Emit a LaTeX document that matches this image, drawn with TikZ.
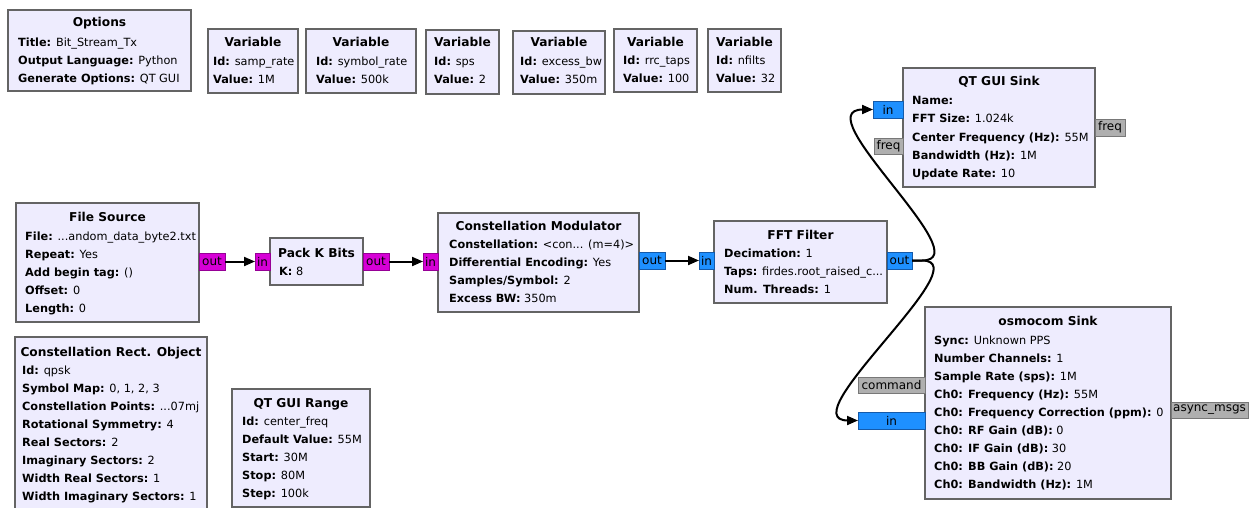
\documentclass[tikz,border=0pt]{standalone}
\usepackage{fontspec}
\setmainfont{DejaVu Sans}
\usetikzlibrary{arrows.meta}
\definecolor{blkfill}{RGB}{238,236,254}
\definecolor{blkdraw}{RGB}{100,100,100}
\definecolor{pbyte}{RGB}{214,0,214}
\definecolor{pbytedraw}{RGB}{150,0,150}
\definecolor{pcplx}{RGB}{30,144,255}
\definecolor{pcplxdraw}{RGB}{20,90,170}
\definecolor{pmsg}{RGB}{175,175,175}
\definecolor{pmsgdraw}{RGB}{120,120,120}
\newcommand{\kv}[2]{\textbf{#1:} #2}
\tikzset{
 blk/.style={draw=blkdraw, fill=blkfill, line width=1.5pt, anchor=north west, inner sep=0pt, outer sep=0pt},
 ttl/.style={anchor=base, font=\fontsize{12.2}{14}\selectfont\bfseries, inner sep=0pt, yshift=-1pt},
 ln/.style={anchor=base west, font=\fontsize{11.3}{13}\selectfont, inner sep=0pt, yshift=-1pt},
 port/.style={anchor=north west, inner sep=0pt, outer sep=0pt, line width=0.8pt, font=\fontsize{12}{14}\selectfont},
 bport/.style={port, draw=pbytedraw, fill=pbyte},
 cport/.style={port, draw=pcplxdraw, fill=pcplx},
 mport/.style={port, draw=pmsgdraw, fill=pmsg},
 wire/.style={line width=2pt, -{Triangle[length=11pt,width=9pt]}},
}
\begin{document}
\begin{tikzpicture}[x=1pt,y=-1pt]
\useasboundingbox (0,0) rectangle (1249,508);
\clip (0,0) rectangle (1249,508);
% Options
\node[blk, minimum width=183pt, minimum height=81pt] (opt) at (8,10) {};
\node[ttl] (opt-t) at (99.5,26) {Options};
\node[ln] (opt-1) at (18,46) {\kv{Title}{Bit\_Stream\_Tx}};
\node[ln] (opt-2) at (18,64) {\kv{Output Language}{Python}};
\node[ln] (opt-3) at (18,82) {\kv{Generate Options}{QT GUI}};
% Variables
\node[blk, minimum width=90pt, minimum height=64pt] (v1) at (208,29) {};
\node[ttl] (v1-t) at (253,46) {Variable};
\node[ln] (v1-1) at (213,65) {\kv{Id}{samp\_rate}};
\node[ln] (v1-2) at (213,83) {\kv{Value}{1M}};
\node[blk, minimum width=110pt, minimum height=64pt] (v2) at (306,29) {};
\node[ttl] (v2-t) at (361,46) {Variable};
\node[ln] (v2-1) at (316,65) {\kv{Id}{symbol\_rate}};
\node[ln] (v2-2) at (316,83) {\kv{Value}{500k}};
\node[blk, minimum width=73pt, minimum height=64pt] (v3) at (426,30) {};
\node[ttl] (v3-t) at (462.5,46) {Variable};
\node[ln] (v3-1) at (434,65) {\kv{Id}{sps}};
\node[ln] (v3-2) at (434,83) {\kv{Value}{2}};
\node[blk, minimum width=92pt, minimum height=63pt] (v4) at (513,31) {};
\node[ttl] (v4-t) at (559,46) {Variable};
\node[ln] (v4-1) at (520,65) {\kv{Id}{excess\_bw}};
\node[ln] (v4-2) at (520,83) {\kv{Value}{350m}};
\node[blk, minimum width=83pt, minimum height=63pt] (v5) at (614,29) {};
\node[ttl] (v5-t) at (655.5,46) {Variable};
\node[ln] (v5-1) at (623,64) {\kv{Id}{rrc\_taps}};
\node[ln] (v5-2) at (623,82) {\kv{Value}{100}};
\node[blk, minimum width=73pt, minimum height=63pt] (v6) at (708,29) {};
\node[ttl] (v6-t) at (744.5,46) {Variable};
\node[ln] (v6-1) at (716,64) {\kv{Id}{nfilts}};
\node[ln] (v6-2) at (716,82) {\kv{Value}{32}};
% QT GUI Sink
\node[blk, minimum width=192pt, minimum height=119pt] (qs) at (903,68) {};
\node[ttl] (qs-t) at (999,85) {QT GUI Sink};
\node[ln] (qs-1) at (912,104) {\textbf{Name:}};
\node[ln] (qs-2) at (912,122) {\kv{FFT Size}{1.024k}};
\node[ln] (qs-3) at (912,140) {\kv{Center Frequency (Hz)}{55M}};
\node[ln] (qs-4) at (912,158) {\kv{Bandwidth (Hz)}{1M}};
\node[ln] (qs-5) at (912,176) {\kv{Update Rate}{10}};
\node[cport, minimum width=30pt, minimum height=17pt] (qs-in) at (873,101) {in};
\node[mport, minimum width=29pt, minimum height=16pt] (qs-freq) at (874,138) {freq};
\node[mport, minimum width=30pt, minimum height=17pt] (qs-fo) at (1095,119) {freq};
% File Source
\node[blk, minimum width=183pt, minimum height=119pt] (fs) at (16,203) {};
\node[ttl] (fs-t) at (107.5,220) {File Source};
\node[ln] (fs-1) at (25,239) {\kv{File}{...andom\_data\_byte2.txt}};
\node[ln] (fs-2) at (25,257) {\kv{Repeat}{Yes}};
\node[ln] (fs-3) at (25,275) {\kv{Add begin tag}{()}};
\node[ln] (fs-4) at (25,293) {\kv{Offset}{0}};
\node[ln] (fs-5) at (25,311) {\kv{Length}{0}};
\node[bport, minimum width=26pt, minimum height=17pt] (fs-out) at (199,253) {out};
% Pack K Bits
\node[blk, minimum width=93pt, minimum height=47pt] (pk) at (270,238) {};
\node[ttl] (pk-t) at (316.5,256) {Pack K Bits};
\node[ln] (pk-1) at (279,274) {\kv{K}{8}};
\node[bport, minimum width=15pt, minimum height=17pt] (pk-in) at (255,253) {in};
\node[bport, minimum width=26pt, minimum height=17pt] (pk-out) at (363,253) {out};
% Constellation Modulator
\node[blk, minimum width=201pt, minimum height=99pt] (cm) at (438,213) {};
\node[ttl] (cm-t) at (538.5,229) {Constellation Modulator};
\node[ln] (cm-1) at (449,247) {\kv{Constellation}{<con... (m=4)>}};
\node[ln] (cm-2) at (449,265) {\kv{Differential Encoding}{Yes}};
\node[ln] (cm-3) at (449,283) {\kv{Samples/Symbol}{2}};
\node[ln] (cm-4) at (449,301) {\kv{Excess BW}{350m}};
\node[bport, minimum width=15pt, minimum height=17pt] (cm-in) at (423,253) {in};
\node[cport, minimum width=26pt, minimum height=17pt] (cm-out) at (639,252) {out};
% FFT Filter
\node[blk, minimum width=173pt, minimum height=82pt] (ff) at (714,221) {};
\node[ttl] (ff-t) at (800.5,238) {FFT Filter};
\node[ln] (ff-1) at (724,256) {\kv{Decimation}{1}};
\node[ln] (ff-2) at (724,274) {\kv{Taps}{firdes.root\_raised\_c...}};
\node[ln] (ff-3) at (724,292) {\kv{Num. Threads}{1}};
\node[cport, minimum width=15pt, minimum height=17pt] (ff-in) at (699,252) {in};
\node[cport, minimum width=25pt, minimum height=17pt] (ff-out) at (887,252) {out};
% Constellation Rect. Object
\node[blk, minimum width=192pt, minimum height=180pt] (cr) at (15,337) {};
\node[ttl] (cr-t) at (111,355) {Constellation Rect. Object};
\node[ln] (cr-1) at (22,373) {\kv{Id}{qpsk}};
\node[ln] (cr-2) at (22,391) {\kv{Symbol Map}{0, 1, 2, 3}};
\node[ln] (cr-3) at (22,409) {\kv{Constellation Points}{...07mj}};
\node[ln] (cr-4) at (22,427) {\kv{Rotational Symmetry}{4}};
\node[ln] (cr-5) at (22,445) {\kv{Real Sectors}{2}};
\node[ln] (cr-6) at (22,463) {\kv{Imaginary Sectors}{2}};
\node[ln] (cr-7) at (22,481) {\kv{Width Real Sectors}{1}};
\node[ln] (cr-8) at (22,499) {\kv{Width Imaginary Sectors}{1}};
% QT GUI Range
\node[blk, minimum width=138pt, minimum height=118pt] (qr) at (232,389) {};
\node[ttl] (qr-t) at (301,406) {QT GUI Range};
\node[ln] (qr-1) at (242,424) {\kv{Id}{center\_freq}};
\node[ln] (qr-2) at (242,442) {\kv{Default Value}{55M}};
\node[ln] (qr-3) at (242,460) {\kv{Start}{30M}};
\node[ln] (qr-4) at (242,478) {\kv{Stop}{80M}};
\node[ln] (qr-5) at (242,496) {\kv{Step}{100k}};
% osmocom Sink
\node[blk, minimum width=246pt, minimum height=192pt] (os) at (925,307) {};
\node[ttl] (os-t) at (1048,324) {osmocom Sink};
\node[ln] (os-1) at (934,343) {\kv{Sync}{Unknown PPS}};
\node[ln] (os-2) at (934,361) {\kv{Number Channels}{1}};
\node[ln] (os-3) at (934,379) {\kv{Sample Rate (sps)}{1M}};
\node[ln] (os-4) at (934,397) {\kv{Ch0: Frequency (Hz)}{55M}};
\node[ln] (os-5) at (934,415) {\kv{Ch0: Frequency Correction (ppm)}{0}};
\node[ln] (os-6) at (934,433) {\kv{Ch0: RF Gain (dB)}{0}};
\node[ln] (os-7) at (934,451) {\kv{Ch0: IF Gain (dB)}{30}};
\node[ln] (os-8) at (934,469) {\kv{Ch0: BB Gain (dB)}{20}};
\node[ln] (os-9) at (934,487) {\kv{Ch0: Bandwidth (Hz)}{1M}};
\node[mport, minimum width=67pt, minimum height=16pt] (os-cmd) at (858,377) {command};
\node[cport, minimum width=67pt, minimum height=17pt] (os-in) at (858,412) {in};
\node[mport, minimum width=77pt, minimum height=16pt] (os-async) at (1171,402) {async\_msgs};
% connections
\draw[wire] (fs-out.east) -- (pk-in.west);
\draw[wire] (pk-out.east) -- (cm-in.west);
\draw[wire] (cm-out.east) -- (ff-in.west);
\draw[wire] (ff-out.east) -- ++(10,0) .. controls +(60,0) and +(-60,0) .. ([xshift=-10pt]qs-in.west) -- (qs-in.west);
\draw[wire] (ff-out.east) -- ++(10,0) .. controls +(60,0) and +(-60,0) .. ([xshift=-10pt]os-in.west) -- (os-in.west);
\end{tikzpicture}
\end{document}
